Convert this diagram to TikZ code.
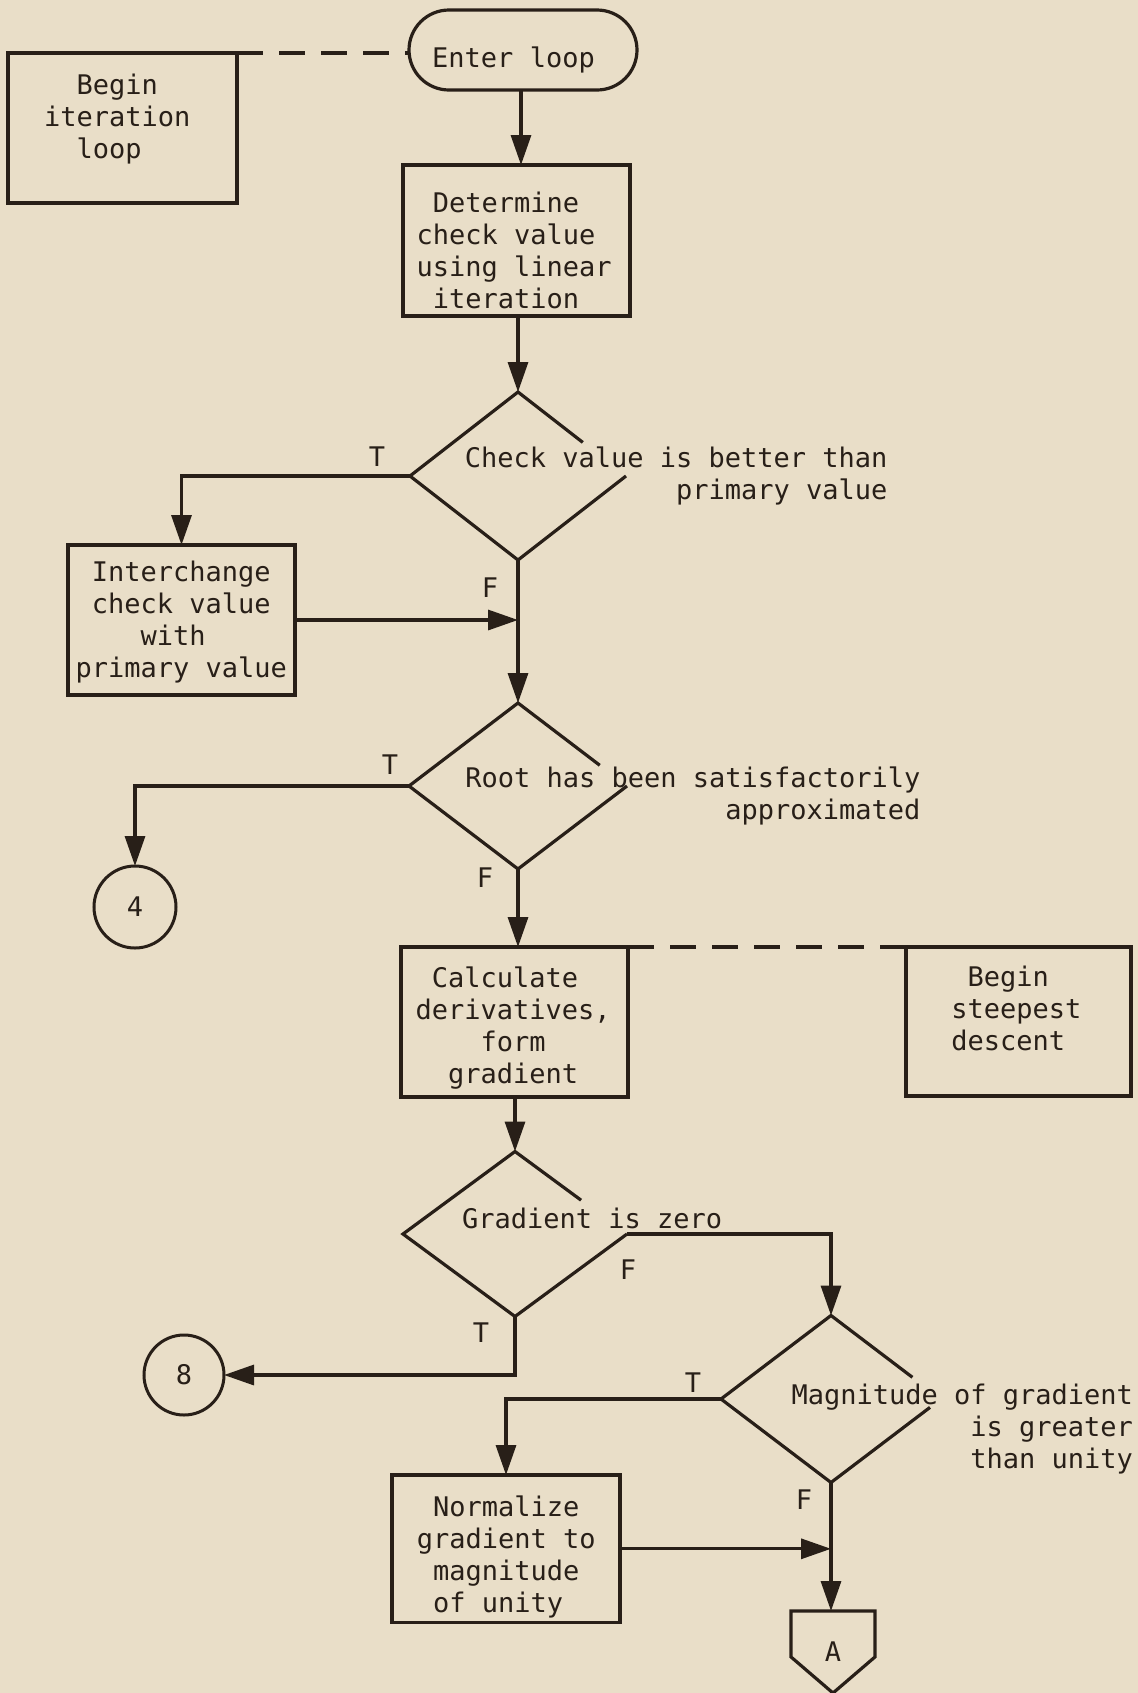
\documentclass[tikz,border=0pt]{standalone}
\usepackage{fontspec}
\newfontfamily\flowfont{DejaVu Sans Mono}[WordSpace={1,0,0}]
\usetikzlibrary{arrows.meta,shapes.geometric,calc}
\definecolor{paper}{RGB}{233,222,200}
\definecolor{ink}{RGB}{40,31,24}
\begin{document}
\begin{tikzpicture}[x=0.5pt,y=-0.5pt,
  every node/.style={font=\flowfont\fontsize{13.5pt}{16pt}\selectfont, text=ink, inner sep=0pt, outer sep=0pt},
  ln/.style={draw=ink, line width=1.6pt},
  arr/.style={ln, -{Triangle[length=15pt,width=10pt]}},
  dashln/.style={ln, dash pattern=on 13pt off 8pt},
  stepbox/.style={draw=ink, line width=1.6pt, rectangle},
  dia/.style={diamond, draw=none, inner sep=0pt},
  conn/.style={circle, draw=ink, line width=1.5pt},
  ltxt/.style={align=left, anchor=west},
  rtxt/.style={align=right, anchor=east},
]
\fill[paper] (0,0) rectangle (1138,1693);
\useasboundingbox (0,0) rectangle (1138,1693);

% boxes and terminals
\node[stepbox, minimum width=114.5pt, minimum height=75pt] (bil) at (122.5,128) {};
\node[ltxt] (bilT) at (44,119) {\ \ Begin\\iteration\\\ \ loop};

\node[draw=ink, line width=1.6pt, rectangle, rounded corners=20pt, minimum width=114pt, minimum height=40pt] (enter) at (523,50) {};
\node[anchor=base] (enterT) at (513.5,67) {Enter loop};

\node[stepbox, minimum width=113.5pt, minimum height=75.5pt] (det) at (516.5,240.5) {};
\node[ltxt] (detT) at (416.5,250) {\ Determine\\check value\\using linear\\\ iteration};

\node[dia, minimum width=108pt, minimum height=84pt] (d1) at (518,476) {};
\node[rtxt] (d1T) at (887.5,476) {Check value is better than\\primary value};

\node[stepbox, minimum width=113.5pt, minimum height=75pt] (int) at (181.5,620) {};
\node[ltxt] (intT) at (75.7,622.5) {\ Interchange\\\ check value\\\ \ \ \ with\\primary value};

\node[dia, minimum width=109pt, minimum height=83pt] (d2) at (518,786) {};
\node[rtxt] (d2T) at (920.5,796) {Root has been satisfactorily\\approximated};

\node[conn, minimum size=41pt] (c4) at (135,907) {4};

\node[stepbox, minimum width=113.5pt, minimum height=75pt] (calc) at (514.5,1022) {};
\node[ltxt] (calcT) at (415.5,1028) {\ Calculate\\derivatives,\\\ \ \ \ form\\\ \ gradient};

\node[stepbox, minimum width=112.5pt, minimum height=74.5pt] (st) at (1018.5,1021.5) {};
\node[ltxt] (stT) at (951.3,1008.75) {\ Begin\\steepest\\descent};

\node[dia, minimum width=112pt, minimum height=82.5pt] (d3) at (515,1234) {};
\node[anchor=base west] (d3T) at (462,1228) {Gradient is zero};

\node[conn, minimum size=40pt] (c8) at (184,1375) {8};

\node[dia, minimum width=110pt, minimum height=83.5pt] (d4) at (831,1399) {};
\node[rtxt] (d4T) at (1133,1429) {Magnitude of gradient\\is greater\\than unity};

\node[stepbox, minimum width=114pt, minimum height=73.8pt] (norm) at (506,1548.8) {};
\node[ltxt] (normT) at (416.85,1556.5) {\ Normalize\\gradient to\\\ magnitude\\\ of unity};

\node[rectangle, draw=none, minimum width=42pt, minimum height=41pt] (offA) at (833,1652) {A};
\draw[ln, line join=miter] (offA.north west) -- (offA.north east)
  -- ($(offA.north east)!0.56!(offA.south east)$) -- (offA.south)
  -- ($(offA.north west)!0.56!(offA.south west)$) -- cycle;

% diamond outlines (right corner left open where the text runs through)
\draw[ln] ($(d1.north)!0.6!(d1.east)$) -- (d1.north) -- (d1.west) -- (d1.south) -- (d1.east);
\draw[ln] ($(d2.north)!0.75!(d2.east)$) -- (d2.north) -- (d2.west) -- (d2.south) -- (d2.east);
\draw[ln] ($(d3.north)!0.59!(d3.east)$) -- (d3.north) -- (d3.west) -- (d3.south) -- (d3.east);
\draw[ln] ($(d4.north)!0.74!(d4.east)$) -- (d4.north) -- (d4.west) -- (d4.south) -- ($(d4.south)!0.9!(d4.east)$);

% T / F labels
\node (t1) at (377,457) {T};
\node (f1) at (490,588) {F};
\node (t2) at (390,765) {T};
\node (f2) at (485,878) {F};
\node (f3) at (628,1270) {F};
\node (t3) at (481,1333) {T};
\node (t4) at (693,1383) {T};
\node (f4) at (804,1500) {F};

% dashed annotation links
\draw[dashln] (bil.north east) -- (enter.west |- bil.north east);
\draw[dashln] (calc.north east) -- (st.north west);

% connectors
\draw[arr] (enter.south -| 521,0) -- (det.north -| 521,0);
\draw[arr] (d1.north |- det.south) -- (d1.north);
\draw[arr] (d1.west) -| (int.north);
\draw[arr] (int.east) -- (int.east -| d1.south);
\draw[arr] (d1.south) -- (d2.north);
\draw[arr] (d2.west) -| (c4.north);
\draw[arr] (d2.south) -- (d2.south |- calc.north);
\draw[arr] (d3.north |- calc.south) -- (d3.north);
\draw[arr] (d3.east) -| (d4.north);
\draw[arr] (d3.south) |- (c8.east);
\draw[arr] (d4.west) -| (norm.north);
\draw[arr] (norm.east) -- (norm.east -| d4.south);
\draw[arr] (d4.south) -- (offA.north -| d4.south);
\end{tikzpicture}
\end{document}
